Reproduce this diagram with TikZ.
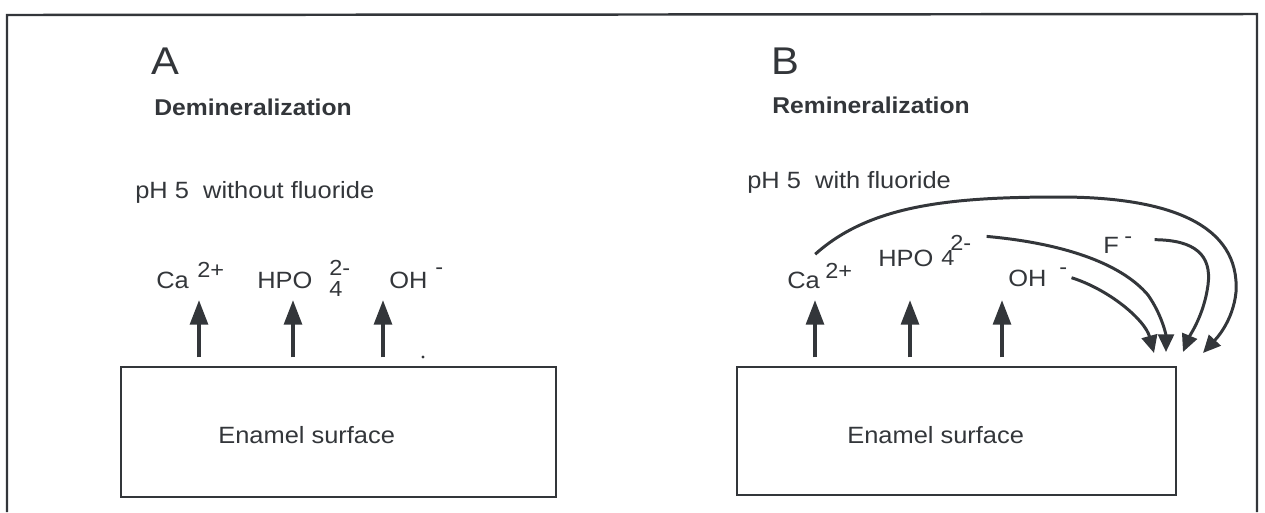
\documentclass[tikz,border=0pt]{standalone}
\usepackage{fontspec}
\setmainfont{Liberation Sans}[FakeStretch=1.08]
\usetikzlibrary{
    arrows.meta,
    positioning,
    calc
}
\usepackage{xcolor}
\definecolor{tinta}{HTML}{33363A}

\begin{document}
\begin{tikzpicture}[
    x=0.02cm, y=-0.02cm,
    every node/.style={font=\fontsize{13.4}{16}\selectfont, text=tinta, inner sep=0pt},
    letra/.style={font=\fontsize{22}{26}\selectfont, anchor=base west},
    titulo/.style={font=\fontsize{13}{16}\selectfont\bfseries, anchor=base west},
    ion/.style={anchor=base west},
    expo/.style={font=\fontsize{12.4}{14}\selectfont, anchor=base west},
    caixa/.style={
        draw=tinta,
        line width=0.9pt,
        minimum width=8.7cm,
        minimum height=2.6cm
    },
    seta/.style={
        draw=tinta,
        line width=2.3pt,
        -{Triangle[length=14pt,width=10pt]},
        shorten <=5pt
    },
    curva/.style={
        draw=tinta,
        line width=1.7pt,
        -{Triangle[length=10pt,width=9pt]}
    }
]
\useasboundingbox (0,0) rectangle (1265,512);

% moldura
\draw[tinta, line width=1.4pt] (7,512) -- (7,15) -- (1257,14) -- (1257,512);

% A: desmineralizacao
\node[letra] (rotA) at (151,74) {A};
\node[titulo] (titA) at (154,115) {Demineralization};
\node[ion] (phA) at (135,198) {pH 5\ \ without fluoride};

\node[caixa] (esmalteA) at (338.5,432) {};
\node[ion] (superfA) at (218,443) {Enamel surface};

\node[ion] (caA) at (156,288) {Ca};
\node[expo] (caqA) at (197,277) {2+};
\node[ion] (hpoA) at (257,288) {HPO};
\node[expo] (hpoqA) at (329,275) {2-};
\node[expo] (hpoiA) at (329,296) {4};
\node[ion] (ohA) at (389,288) {OH};
\node[expo] (ohqA) at (435,274) {-};

\coordinate (pA1) at (199,300);
\coordinate (pA2) at (293,300);
\coordinate (pA3) at (383,300);
\draw[seta] (pA1 |- esmalteA.north) -- (pA1);
\draw[seta] (pA2 |- esmalteA.north) -- (pA2);
\draw[seta] (pA3 |- esmalteA.north) -- (pA3);
\fill[tinta] (423,357) circle (1.6);

% B: remineralizacao
\node[letra] (rotB) at (771,74) {B};
\node[titulo] (titB) at (772,113) {Remineralization};
\node[ion] (phB) at (747,188) {pH 5\ \ with fluoride};

\node[caixa, minimum width=8.78cm, minimum height=2.56cm] (esmalteB) at (956.5,431) {};
\node[ion] (superfB) at (847,443) {Enamel surface};

\node[ion] (caB) at (787,288) {Ca};
\node[expo] (caqB) at (825,278) {2+};
\node[ion] (hpoB) at (878,266) {HPO};
\node[expo] (hpoiB) at (941,265) {4};
\node[expo] (hpoqB) at (950,250) {2-};
\node[ion] (ohB) at (1008,286) {OH};
\node[expo] (ohqB) at (1059,274) {-};
\node[ion] (fB) at (1103,253) {F};
\node[expo] (fqB) at (1124,243) {-};

\coordinate (pB1) at (815,300);
\coordinate (pB2) at (910,300);
\coordinate (pB3) at (1002,300);
\draw[seta] (pB1 |- esmalteB.north) -- (pB1);
\draw[seta] (pB2 |- esmalteB.north) -- (pB2);
\draw[seta] (pB3 |- esmalteB.north) -- (pB3);

% ions que voltam para a superficie
\coordinate (fimOH) at (1154,353);
\coordinate (fimHPO) at (1166,352);
\coordinate (fimF) at (1183,352);
\coordinate (fimCa) at (1203,353);

\draw[curva] ([shift={(-5,-17)}]caB.north east)
    .. controls (870,205) and (950,197) .. (1060,197)
    .. controls (1170,197) and (1240,225) .. (1236,292)
    .. controls (1233,322) and (1215,340) .. (fimCa);
\draw[curva] ([shift={(15,-6)}]hpoqB.east)
    .. controls (1060,243) and (1120,262) .. (1148,295)
    .. controls (1162,315) and (1166,335) .. (fimHPO);
\draw[curva] ([shift={(4,7)}]ohqB.east)
    .. controls (1110,290) and (1145,320) .. (fimOH);
\draw[curva] ([shift={(22,0)}]fqB.east)
    .. controls (1195,240) and (1212,255) .. (1208,285)
    .. controls (1204,315) and (1190,335) .. (fimF);

\end{tikzpicture}
\end{document}
